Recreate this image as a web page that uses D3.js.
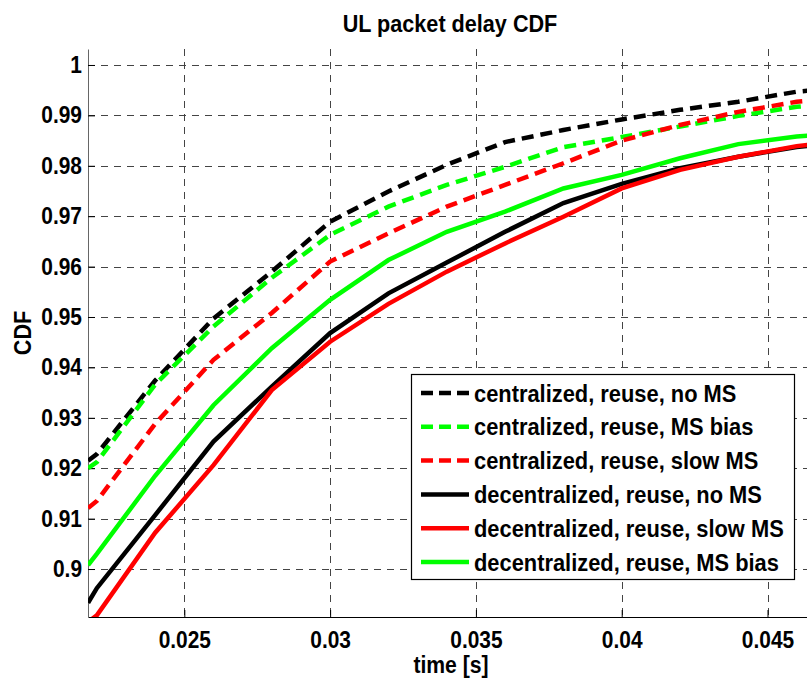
<!DOCTYPE html>
<html><head><meta charset="utf-8">
<script src="https://cdn.jsdelivr.net/npm/d3@7/dist/d3.min.js"></script>
<style>
body{margin:0;background:#fff;}
text{font-family:"Liberation Sans",Arial,Helvetica,sans-serif;font-weight:bold;fill:#000;}
</style></head><body>
<svg id="c" width="807" height="682"></svg>
<script>
const times = [0.0217,0.022,0.024,0.026,0.028,0.030,0.032,0.034,0.036,0.038,0.040,0.042,0.044,0.046,0.0466];
const centralizedNoMS   = [0.9215,0.9228,0.9374,0.9497,0.9590,0.9689,0.9749,0.9802,0.9847,0.9871,0.9892,0.9911,0.9927,0.9947,0.9950];
const centralizedBias   = [0.9200,0.9212,0.9366,0.9481,0.9578,0.9663,0.9719,0.9762,0.9798,0.9837,0.9857,0.9878,0.9899,0.9917,0.9920];
const centralizedSlow   = [0.9121,0.9135,0.9288,0.9415,0.9508,0.9610,0.9666,0.9719,0.9762,0.9805,0.9850,0.9881,0.9907,0.9927,0.9930];
const decentralNoMS     = [0.8933,0.8962,0.9107,0.9253,0.9362,0.9468,0.9547,0.9608,0.9669,0.9726,0.9764,0.9795,0.9818,0.9837,0.9841];
const decentralSlow     = [0.8895,0.8908,0.9072,0.9206,0.9355,0.9451,0.9526,0.9590,0.9646,0.9699,0.9755,0.9792,0.9818,0.9839,0.9843];
const decentralBias     = [0.9008,0.9030,0.9185,0.9325,0.9438,0.9534,0.9613,0.9669,0.9709,0.9755,0.9782,0.9815,0.9843,0.9858,0.9861];
const seriesNames = ["centralized, reuse, no MS","centralized, reuse, MS bias","centralized, reuse, slow MS",
  "decentralized, reuse, no MS","decentralized, reuse, slow MS","decentralized, reuse, MS bias"];
const seriesValues = [centralizedNoMS,centralizedBias,centralizedSlow,decentralNoMS,decentralSlow,decentralBias];
const seriesColors = ["#000000","#00ff00","#ff0000","#000000","#ff0000","#00ff00"];
const seriesDashed = [true,true,true,false,false,false];
const xTicks = [0.025,0.03,0.035,0.04,0.045];
const xTickLabels = ["0.025","0.03","0.035","0.04","0.045"];
const yTicks = [0.9,0.91,0.92,0.93,0.94,0.95,0.96,0.97,0.98,0.99,1];
const yTickLabels = ["0.9","0.91","0.92","0.93","0.94","0.95","0.96","0.97","0.98","0.99","1"];

const L=88, R=812, T=49, B=617;
const FS = "23.5px";
const x = d3.scaleLinear().domain([0.021697,0.046526]).range([L,R]);
const y = d3.scaleLinear().domain([0.89048,1.00317]).range([B,T]);
const svg = d3.select("#c");

function squeeze(sel, k){
  sel.each(function(){
    const len = this.getComputedTextLength();
    d3.select(this).attr("textLength", len*k).attr("lengthAdjust","spacingAndGlyphs");
  });
}

svg.append("defs").append("clipPath").attr("id","clip")
  .append("rect").attr("x",L).attr("y",T).attr("width",R-L).attr("height",B-T);

// grid
const grid = svg.append("g").attr("stroke","#444").attr("stroke-width",1).attr("stroke-dasharray","7,6");
grid.selectAll("line.v").data(xTicks).join("line")
  .attr("x1",d=>Math.round(x(d))+0.5).attr("x2",d=>Math.round(x(d))+0.5).attr("y1",T).attr("y2",B);
grid.selectAll("line.h").data(yTicks).join("line")
  .attr("y1",d=>Math.round(y(d))+0.5).attr("y2",d=>Math.round(y(d))+0.5).attr("x1",L).attr("x2",R);

// axes
const xAxis = d3.axisBottom(x).tickValues(xTicks).tickFormat((d,i)=>xTickLabels[i]).tickSizeInner(-7).tickSizeOuter(0).tickPadding(14);
const gx = svg.append("g").attr("transform",`translate(0,${B})`).call(xAxis);
gx.select(".domain").attr("stroke","#000");
gx.selectAll("text").style("font-size",FS).style("font-family","'Liberation Sans',Arial,sans-serif").style("font-weight","bold");
squeeze(gx.selectAll("text"),0.89);
const yAxis = d3.axisLeft(y).tickValues(yTicks).tickFormat((d,i)=>yTickLabels[i]).tickSizeInner(-7).tickSizeOuter(0).tickPadding(6);
const gy = svg.append("g").attr("transform",`translate(${L},0)`).call(yAxis);
gy.select(".domain").attr("stroke","#666");
gy.selectAll("text").style("font-size",FS).style("font-family","'Liberation Sans',Arial,sans-serif").style("font-weight","bold");
squeeze(gy.selectAll("text"),0.89);

// lines
const lineGen = d3.line().x((d,i)=>x(times[i])).y(d=>y(d));
const plot = svg.append("g").attr("clip-path","url(#clip)");
seriesValues.forEach((vals,k)=>{
  plot.append("path").datum(vals).attr("d",lineGen).attr("fill","none")
    .attr("stroke",seriesColors[k]).attr("stroke-width",4.5)
    .attr("stroke-dasharray",seriesDashed[k]?"12,7":null);
});

// title and labels
const t1 = svg.append("text").attr("x",450).attr("y",32).attr("text-anchor","middle").style("font-size",FS).text("UL packet delay CDF");
squeeze(t1,0.92);
const t2 = svg.append("text").attr("x",451).attr("y",673).attr("text-anchor","middle").style("font-size",FS).text("time [s]");
squeeze(t2,0.9);
const t3 = svg.append("text").attr("transform","translate(31,333) rotate(-90)").attr("text-anchor","middle").style("font-size",FS).text("CDF");
squeeze(t3,0.92);

// legend
const lg = svg.append("g");
lg.append("rect").attr("x",411.5).attr("y",374.5).attr("width",383).attr("height",205).attr("fill","#fff").attr("stroke","#000").attr("stroke-width",1.2);
seriesNames.forEach((name,k)=>{
  const cy = 393 + k*33.8;
  lg.append("line").attr("x1",421).attr("x2",469).attr("y1",cy).attr("y2",cy)
    .attr("stroke",seriesColors[k]).attr("stroke-width",4.5).attr("stroke-dasharray",seriesDashed[k]?"12,6":null);
  const tt = lg.append("text").attr("x",474).attr("y",cy+8.5).style("font-size",FS).text(name);
  squeeze(tt,0.93);
});
</script></body></html>
